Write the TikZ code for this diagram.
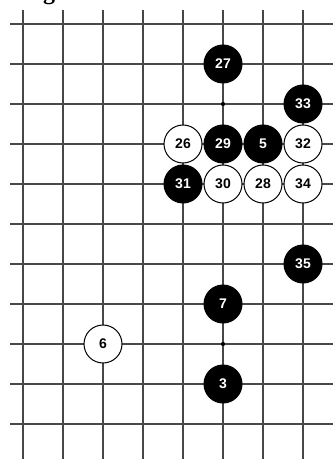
\documentclass[tikz,border=0pt]{standalone}
\usepackage{fontspec}
\setmainfont{Liberation Sans}
\newfontfamily\titlefont{Liberation Serif}
\usetikzlibrary{positioning}

\begin{document}
\begin{tikzpicture}[x=0.75pt, y=-0.75pt,
  gridline/.style={draw=black!72, line width=0.8pt},
  stone/.style={circle, minimum size=28.5pt, inner sep=0pt, line width=0.75pt,
                font=\bfseries\fontsize{10.5}{12}\selectfont},
  bstone/.style={stone, fill=black, draw=black, text=white},
  wstone/.style={stone, fill=white, draw=black, text=black},
  hoshi/.style={circle, fill=black, minimum size=3.2pt, inner sep=0pt}]

  \useasboundingbox (0,0) rectangle (333,459);

  % caption, cut by the page edge
  \node[font=\titlefont\bfseries\fontsize{18}{20}\selectfont, anchor=base,
        inner sep=0pt] (title) at (49,0) {g};

  % board
  \foreach \i in {0,...,7}
    \draw[gridline] (23+40*\i,10) -- (23+40*\i,459);
  \foreach \j in {0,...,10}
    \draw[gridline] (10,24+40*\j) -- (333,24+40*\j);

  \node[hoshi] (hA) at (223,104) {};
  \node[hoshi] (hB) at (223,344) {};

  % stones
  \node[bstone] (m27) at (223,64)  {27};
  \node[bstone] (m33) at (303,104) {33};
  \node[wstone] (m26) at (183,144) {26};
  \node[bstone] (m29) at (223,144) {29};
  \node[bstone] (m5)  at (263,144) {5};
  \node[wstone] (m32) at (303,144) {32};
  \node[bstone] (m31) at (183,184) {31};
  \node[wstone] (m30) at (223,184) {30};
  \node[wstone] (m28) at (263,184) {28};
  \node[wstone] (m34) at (303,184) {34};
  \node[bstone] (m35) at (303,264) {35};
  \node[bstone] (m7)  at (223,304) {7};
  \node[wstone] (m6)  at (103,344) {6};
  \node[bstone] (m3)  at (223,384) {3};
\end{tikzpicture}
\end{document}
